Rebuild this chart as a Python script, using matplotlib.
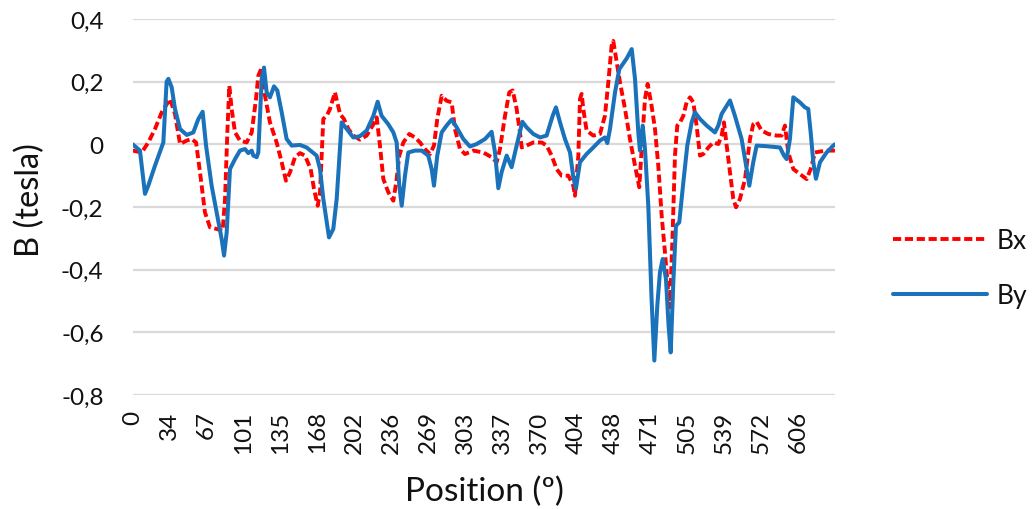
import matplotlib
matplotlib.use("Agg")
import matplotlib.pyplot as plt

plt.rcParams['font.family'] = ['Lato', 'DejaVu Sans']

# Angular step between consecutive samples (degrees); ticks every 10 samples
STEP = 3.3666
tick_labels = ["0", "34", "67", "101", "135", "168", "202", "236", "269", "303",
               "337", "370", "404", "438", "471", "505", "539", "572", "606"]
y_ticks = [0.4, 0.2, 0.0, -0.2, -0.4, -0.6, -0.8]
y_tick_labels = ["0,4", "0,2", "0", "-0,2", "-0,4", "-0,6", "-0,8"]

# Bx component (tesla) vs position (degrees)
bx_pos = [0.0, 8.2, 14.2, 20.3, 26.4, 34.0, 38.5, 43.1, 49.2, 53.7, 57.7, 61.3, 65.8,
          70.4, 76.5, 81.9, 84.1, 86.2, 88.0, 90.1, 93.2, 97.7, 103.8, 108.4, 112.3,
          114.4, 117.5, 120.5, 125.0, 131.1, 135.7, 139.6, 143.3, 147.8, 152.4, 156.9,
          162.1, 165.1, 168.5, 170.6, 173.6, 176.7, 179.7, 184.2, 188.8, 192.4, 196.4,
          200.9, 207.0, 213.1, 219.2, 222.2, 225.2, 228.3, 232.8, 237.4, 240.4, 242.8,
          246.5, 251.9, 257.1, 261.7, 266.2, 270.8, 274.4, 277.4, 281.4, 285.9, 290.5,
          293.5, 298.1, 302.6, 310.2, 319.3, 326.9, 331.5, 334.5, 339.1, 343.0, 346.1,
          349.7, 352.7, 354.3, 358.8, 364.9, 372.5, 377.0, 381.6, 386.1, 390.7, 396.8,
          401.3, 402.8, 405.9, 407.4, 408.9, 410.4, 413.4, 419.5, 425.6, 430.1, 433.2,
          436.2, 437.7, 440.8, 443.8, 448.4, 452.9, 457.5, 461.4, 464.5, 466.6, 469.0,
          472.6, 475.7, 478.7, 481.8, 484.8, 487.8, 489.3, 491.8, 493.9, 496.0, 498.5,
          501.5, 504.5, 507.6, 510.6, 513.6, 516.7, 519.7, 524.3, 528.8, 533.4, 536.4,
          538.5, 541.0, 544.0, 547.0, 549.5, 553.1, 557.7, 562.2, 565.2, 568.3, 572.8,
          578.9, 586.5, 591.0, 594.1, 597.1, 601.7, 607.7, 613.8, 617.5, 621.4, 626.0,
          632.0, 639.6]
bx_val = [-0.020, -0.026, 0.006, 0.049, 0.102, 0.145, 0.097, 0.001, 0.012, 0.017, 0.006,
          -0.089, -0.217, -0.265, -0.270, -0.276, -0.174, 0.038, 0.187, 0.113, 0.038,
          0.012, 0.006, 0.038, 0.145, 0.219, 0.245, 0.155, 0.070, 0.006, -0.057, -0.116,
          -0.089, -0.041, -0.028, -0.036, -0.079, -0.142, -0.196, -0.153, 0.081, 0.091,
          0.113, 0.166, 0.097, 0.081, 0.049, 0.028, 0.015, 0.028, 0.064, 0.086, -0.004,
          -0.111, -0.153, -0.180, -0.111, -0.036, 0.006, 0.033, 0.022, 0.006, -0.015,
          -0.031, -0.004, 0.081, 0.155, 0.139, 0.134, 0.049, -0.015, -0.031, -0.020,
          -0.026, -0.041, -0.057, -0.015, 0.091, 0.166, 0.172, 0.113, 0.038, -0.010,
          -0.004, 0.006, 0.006, -0.004, -0.036, -0.079, -0.100, -0.100, -0.132, -0.164,
          -0.036, 0.145, 0.161, 0.113, 0.044, 0.028, 0.033, 0.091, 0.198, 0.315, 0.330,
          0.262, 0.198, 0.113, 0.017, -0.068, -0.137, 0.038, 0.145, 0.193, 0.123, 0.049,
          -0.068, -0.228, -0.345, -0.472, -0.520, -0.281, -0.036, 0.060, 0.070, 0.091,
          0.134, 0.150, 0.134, 0.060, -0.036, -0.031, -0.010, 0.006, 0.001, 0.028, 0.070,
          -0.004, -0.089, -0.174, -0.201, -0.174, -0.111, 0.017, 0.064, 0.072, 0.044,
          0.033, 0.028, 0.028, 0.060, -0.026, -0.079, -0.095, -0.111, -0.079, -0.026,
          -0.023, -0.020, -0.020]

# By component (tesla) vs position (degrees)
by_pos = [0.0, 6.6, 11.2, 14.2, 20.3, 27.9, 30.9, 32.5, 35.5, 38.5, 43.1, 49.2, 55.2,
          59.8, 63.7, 66.8, 71.9, 76.5, 81.0, 83.2, 85.6, 88.6, 93.2, 97.7, 102.3, 105.3,
          108.4, 109.9, 112.9, 114.4, 117.5, 119.6, 122.0, 125.0, 128.7, 131.7, 135.7,
          140.2, 144.8, 152.4, 158.4, 167.5, 170.6, 173.6, 178.8, 182.7, 185.8, 190.3,
          194.9, 200.9, 207.0, 213.1, 219.2, 223.1, 226.7, 232.8, 237.4, 240.4, 242.8,
          245.0, 248.0, 251.0, 257.1, 263.2, 269.2, 272.3, 274.4, 277.4, 281.4, 285.9,
          290.5, 295.1, 301.1, 307.2, 313.3, 320.9, 326.9, 330.0, 333.0, 336.0, 340.6,
          345.1, 349.7, 354.9, 358.8, 364.9, 371.0, 377.0, 382.5, 385.5, 389.2, 393.7,
          398.3, 401.3, 403.7, 407.4, 413.4, 419.5, 425.6, 430.1, 432.3, 434.7, 439.3,
          443.2, 449.9, 454.5, 457.5, 460.5, 462.0, 464.5, 466.6, 469.6, 472.6, 475.1,
          477.8, 480.2, 482.7, 485.7, 488.1, 490.0, 492.4, 494.8, 497.8, 501.5, 505.1,
          509.1, 512.1, 516.7, 522.7, 530.3, 533.4, 536.4, 541.0, 544.0, 548.5, 554.6,
          558.6, 561.6, 565.2, 568.3, 577.4, 589.5, 593.2, 595.6, 598.6, 601.7, 607.7,
          612.3, 615.3, 617.5, 619.9, 622.3, 626.0, 632.0, 638.1, 639.6]
by_val = [0.000, -0.020, -0.158, -0.132, -0.068, 0.006, 0.200, 0.209, 0.182, 0.113, 0.049,
          0.030, 0.038, 0.081, 0.104, -0.004, -0.132, -0.217, -0.302, -0.355, -0.281,
          -0.079, -0.047, -0.020, -0.015, -0.028, -0.020, -0.036, -0.041, -0.026, 0.209,
          0.245, 0.166, 0.150, 0.185, 0.172, 0.102, 0.017, -0.004, -0.002, -0.010, -0.036,
          -0.079, -0.174, -0.297, -0.270, -0.174, 0.070, 0.049, 0.022, 0.026, 0.044, 0.091,
          0.136, 0.091, 0.064, 0.038, 0.006, -0.132, -0.196, -0.100, -0.026, -0.020,
          -0.020, -0.036, -0.079, -0.132, -0.036, 0.038, 0.060, 0.079, 0.054, 0.017,
          -0.007, 0.001, 0.017, 0.040, -0.026, -0.140, -0.089, -0.036, -0.073, -0.004,
          0.072, 0.054, 0.033, 0.022, 0.028, 0.091, 0.118, 0.070, 0.017, -0.026, -0.105,
          -0.141, -0.057, -0.031, -0.010, 0.012, 0.022, 0.004, 0.049, 0.166, 0.240, 0.274,
          0.304, 0.209, 0.038, -0.020, 0.060, -0.015, -0.196, -0.494, -0.690, -0.515,
          -0.409, -0.366, -0.430, -0.579, -0.664, -0.440, -0.260, -0.249, -0.122, -0.004,
          0.070, 0.102, 0.081, 0.060, 0.038, 0.060, 0.097, 0.123, 0.140, 0.091, 0.017,
          -0.066, -0.132, -0.057, -0.004, -0.006, -0.010, -0.036, -0.047, 0.017, 0.150,
          0.134, 0.118, 0.113, 0.038, -0.057, -0.110, -0.057, -0.026, -0.004, 0.000]

RED = "#FF0000"
BLUE = "#1A72BB"
GRID = "#D9D9D9"

fig = plt.figure(figsize=(10.32, 5.10), dpi=100)
ax = fig.add_axes([132.7 / 1032, 1 - 396 / 510, (835 - 132.7) / 1032, 376 / 510])

ax.plot(bx_pos, bx_val, color=RED, lw=2.8, dashes=(2.1, 0.95), label="Bx", zorder=3,
        dash_joinstyle="round")
ax.plot(by_pos, by_val, color=BLUE, lw=2.9, label="By", zorder=4,
        solid_joinstyle="round", solid_capstyle="round")

ax.set_xlim(0, 190 * STEP)
ax.set_ylim(-0.8, 0.4)

ax.set_xticks([i * 10 * STEP for i in range(len(tick_labels))])
ax.set_xticklabels(tick_labels, rotation=90, fontsize=17.5)
ax.set_yticks(y_ticks)
ax.set_yticklabels(y_tick_labels, fontsize=17.5)
ax.tick_params(axis="both", length=0, labelcolor="#111111")
ax.tick_params(axis="x", pad=11)
ax.tick_params(axis="y", pad=21)

ax.yaxis.grid(True, color=GRID, lw=1.6)
ax.set_axisbelow(True)
for s in ax.spines.values():
    s.set_visible(False)

fig.text(484 / 1032, 1 - 492 / 510, "Position (º)", ha="center", va="center",
         fontsize=24, color="#111111")
fig.text(30 / 1032, 1 - 200 / 510, "B (tesla)", ha="center", va="center",
         rotation=90, fontsize=23.5, color="#111111")

leg = ax.legend(loc="center left", bbox_to_anchor=(893 / 1032, 1 - 269 / 510),
                bbox_transform=fig.transFigure, frameon=False, fontsize=19,
                handlelength=3.56, handletextpad=0.38, labelspacing=1.15, borderpad=0,
                borderaxespad=0)
for t in leg.get_texts():
    t.set_color("#111111")

fig.savefig("out.png", dpi=100)
